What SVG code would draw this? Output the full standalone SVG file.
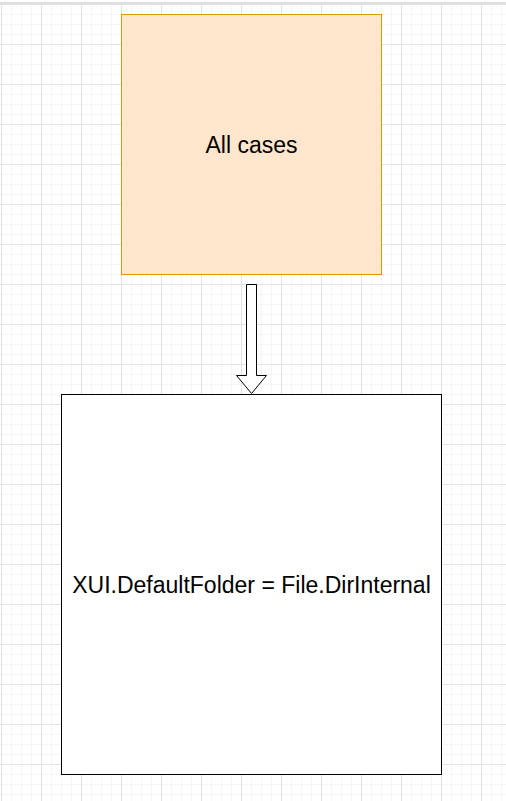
<svg xmlns="http://www.w3.org/2000/svg" width="506" height="801" viewBox="0 0 506 801">
<defs>
<pattern id="minor" x="1" y="4" width="10" height="10" patternUnits="userSpaceOnUse">
<path d="M0.5 0V10M0 0.5H10" fill="none" stroke="#f5f5f5" stroke-width="1"/>
</pattern>
<pattern id="major" x="1" y="4" width="40" height="40" patternUnits="userSpaceOnUse">
<path d="M0.5 0V40M0 0.5H40" fill="none" stroke="#e3e3e3" stroke-width="1"/>
</pattern>
</defs>
<style>
.lbl{font-family:"Liberation Sans",Arial,sans-serif;font-size:23px;fill:#000;text-anchor:middle;dominant-baseline:central}
</style>
<rect width="506" height="801" fill="#fff"/>
<rect x="0" y="4" width="506" height="797" fill="url(#minor)"/>
<rect x="0" y="4" width="506" height="797" fill="url(#major)"/>
<rect x="0" y="2" width="506" height="2" fill="#dddddd"/>
<g id="connectors">
<path d="M246.5 284.5H256.5V375.5H266.5L251.5 393.5L236.5 375.5H246.5Z" fill="#fff" stroke="#000" stroke-width="1"/>
</g>
<g id="all-cases">
<rect x="121.5" y="14.5" width="260" height="260" fill="#ffe6cc" stroke="#d79b00" stroke-width="1"/>
<text class="lbl" x="251.5" y="145">All cases</text>
</g>
<g id="default-folder">
<rect x="61.5" y="394.5" width="380" height="380" fill="#fff" stroke="#000" stroke-width="1"/>
<text class="lbl" x="251.5" y="585">XUI.DefaultFolder = File.DirInternal</text>
</g>
</svg>
